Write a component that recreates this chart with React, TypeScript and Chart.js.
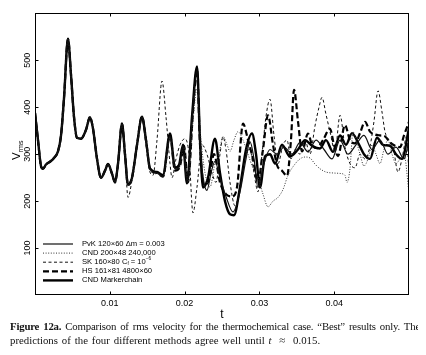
import React, { useEffect, useRef } from 'react';
import { Chart, registerables } from 'chart.js';

Chart.register(...registerables);

// ---- data (t, Vrms) ----
const tCommon = [0, 0.0004, 0.0008, 0.00107, 0.00147, 0.00201, 0.00254, 0.00307, 0.00348, 0.00388, 0.00441, 0.00481, 0.00521, 0.00561, 0.00615, 0.00682, 0.00735, 0.00775, 0.00829, 0.00882, 0.00936, 0.00976, 0.0103, 0.0107, 0.0111, 0.01163];
const vCommon = [388, 330, 275, 269, 278, 284, 292, 306, 340, 420, 546, 470, 380, 335, 333, 352, 379, 355, 290, 250, 265, 279, 258, 240, 280, 365];

const tMid = [0.01203, 0.01243, 0.01297, 0.01364, 0.0143, 0.01484];
const vMid = [300, 235, 250, 320, 380, 330];

const tMarker = [0.01537, 0.01631, 0.01711, 0.01805, 0.01872, 0.01925, 0.01979, 0.02032, 0.02099, 0.02166, 0.02206, 0.02246, 0.02313, 0.02406, 0.02473, 0.0254, 0.02607, 0.0266, 0.02741, 0.02821, 0.02901, 0.02955, 0.03008, 0.03075, 0.03142, 0.03209, 0.03302, 0.03409, 0.03516, 0.0361, 0.03703, 0.0381, 0.0389, 0.03984, 0.04078, 0.04158, 0.04238, 0.04318, 0.04398, 0.04479, 0.04572, 0.04652, 0.04746, 0.04826, 0.04906, 0.05];
const vMarker = [270, 262, 256, 344, 271, 277, 320, 238, 380, 487, 330, 229, 250, 333, 260, 200, 172, 170, 230, 310, 344, 300, 229, 295, 300, 280, 320, 295, 310, 330, 318, 312, 330, 305, 340, 320, 345, 325, 300, 290, 335, 320, 318, 300, 290, 355];

const tPvK = [0.01537, 0.01631, 0.01711, 0.01805, 0.01872, 0.01925, 0.01979, 0.02032, 0.02099, 0.02166, 0.02206, 0.02259, 0.02299, 0.02353, 0.02406, 0.02473, 0.02553, 0.02647, 0.02741, 0.02821, 0.02874, 0.02928, 0.02981, 0.03061, 0.03142, 0.03235, 0.03329, 0.03436, 0.03543, 0.0365, 0.03757, 0.03864, 0.03971, 0.04078, 0.04184, 0.04291, 0.04398, 0.04505, 0.04612, 0.04719, 0.04826, 0.04933, 0.05];
const vPvK = [268, 260, 252, 338, 268, 272, 318, 240, 375, 478, 320, 240, 223, 260, 285, 250, 210, 177, 220, 290, 327, 290, 229, 280, 310, 300, 315, 300, 325, 305, 330, 310, 290, 330, 300, 320, 340, 310, 330, 300, 315, 290, 330];

const tHS = [0.01537, 0.01631, 0.01711, 0.01805, 0.01872, 0.01939, 0.01992, 0.02045, 0.02112, 0.02166, 0.02206, 0.02259, 0.02326, 0.02393, 0.02473, 0.02553, 0.02634, 0.02701, 0.02781, 0.02848, 0.02914, 0.02981, 0.03048, 0.03115, 0.03182, 0.03235, 0.03302, 0.03369, 0.03422, 0.03463, 0.03516, 0.0357, 0.0365, 0.03703, 0.0377, 0.0385, 0.03944, 0.03997, 0.04051, 0.04144, 0.04211, 0.04278, 0.04345, 0.04412, 0.04479, 0.04545, 0.04612, 0.04679, 0.04746, 0.04813, 0.0488, 0.04933, 0.05];
const vHS = [268, 260, 252, 340, 265, 275, 318, 240, 390, 480, 320, 235, 245, 300, 240, 215, 210, 230, 365, 330, 290, 240, 310, 383, 320, 277, 265, 254, 330, 437, 370, 306, 344, 320, 313, 330, 354, 320, 296, 362, 330, 323, 345, 369, 348, 342, 340, 338, 325, 318, 315, 340, 369];

const tSK = [0.01203, 0.01243, 0.01297, 0.01364, 0.0143, 0.01484, 0.01537, 0.01578, 0.01631, 0.01698, 0.01751, 0.01805, 0.01832, 0.01885, 0.01939, 0.02005, 0.02059, 0.02112, 0.02166, 0.02233, 0.02299, 0.02366, 0.0242, 0.02473, 0.02513, 0.02553, 0.02607, 0.02674, 0.02741, 0.02821, 0.02874, 0.02928, 0.02981, 0.03035, 0.03088, 0.03142, 0.03195, 0.03249, 0.03316, 0.03369, 0.03422, 0.03476, 0.03543, 0.0361, 0.03676, 0.03743, 0.03797, 0.03837, 0.0389, 0.03944, 0.04011, 0.04078, 0.04144, 0.04211, 0.04278, 0.04345, 0.04412, 0.04479, 0.04532, 0.04586, 0.04639, 0.04679, 0.04733, 0.04786, 0.04853, 0.04906, 0.04973, 0.05];
const vSK = [300, 208, 245, 320, 378, 320, 262, 255, 330, 456, 380, 280, 250, 290, 320, 333, 300, 175, 230, 320, 300, 260, 240, 300, 337, 310, 240, 190, 230, 300, 310, 260, 220, 300, 380, 417, 340, 280, 320, 330, 290, 310, 300, 330, 300, 360, 400, 421, 385, 348, 306, 383, 315, 280, 271, 300, 290, 317, 370, 435, 390, 348, 330, 317, 262, 290, 340, 240];

const tCND = [0.01537, 0.01631, 0.01711, 0.01805, 0.01872, 0.01939, 0.01992, 0.02045, 0.02112, 0.02166, 0.02219, 0.02273, 0.0234, 0.02406, 0.0246, 0.02513, 0.02567, 0.02607, 0.0266, 0.02714, 0.02781, 0.02848, 0.02914, 0.02981, 0.03048, 0.03115, 0.03182, 0.03249, 0.03316, 0.03382, 0.03476, 0.03543, 0.0361, 0.03676, 0.03743, 0.0381, 0.0389, 0.03984, 0.04078, 0.04144, 0.04171, 0.04211, 0.04251, 0.04291, 0.04345, 0.04398, 0.04452, 0.04505, 0.04559, 0.04612, 0.04666, 0.04719, 0.04773, 0.04826, 0.0488, 0.04933, 0.05];
const vCND = [265, 258, 252, 335, 268, 275, 315, 240, 370, 440, 330, 260, 230, 280, 300, 338, 320, 306, 330, 348, 330, 300, 270, 250, 215, 188, 200, 208, 225, 255, 279, 290, 294, 292, 279, 269, 262, 260, 259, 255, 240, 269, 348, 330, 300, 275, 290, 320, 300, 280, 310, 330, 300, 280, 290, 300, 217];

const seriesNames = [
  'PvK 120×60 Δm = 0.003',
  'CND 200×48 240,000',
  'SK 160×80 C_{f} = 10^{−6}',
  'HS 161×81 4800×60',
  'CND Markerchain',
];

const xTickLabels = ['0.01', '0.02', '0.03', '0.04'];
const yTickLabels = ['100', '200', '300', '400', '500'];

const SANS = '"Liberation Sans", Arial, Helvetica, sans-serif';

function pts(ts: number[][], vs: number[][]) {
  const out: { x: number; y: number }[] = [];
  ts.forEach((t, k) => t.forEach((x, i) => out.push({ x, y: vs[k][i] })));
  return out;
}

function drawRich(ctx: CanvasRenderingContext2D, text: string, x: number, y: number, size: number) {
  const re = /([_^])\{([^}]*)\}/g;
  let last = 0;
  let cx = x;
  const segs: { s: string; kind: string }[] = [];
  let m: RegExpExecArray | null;
  while ((m = re.exec(text))) {
    if (m.index > last) segs.push({ s: text.slice(last, m.index), kind: 'n' });
    segs.push({ s: m[2], kind: m[1] });
    last = m.index + m[0].length;
  }
  if (last < text.length) segs.push({ s: text.slice(last), kind: 'n' });
  segs.forEach((sg) => {
    let fs = size;
    let dy = 0;
    if (sg.kind === '_') { fs = size * 0.62; dy = size * 0.25; }
    if (sg.kind === '^') { fs = size * 0.62; dy = -size * 0.42; }
    ctx.font = `${fs}px ${SANS}`;
    ctx.fillText(sg.s, cx, y + dy);
    cx += ctx.measureText(sg.s).width;
  });
}

const framePlugin = {
  id: 'frameAndLegend',
  afterDraw(chart: any) {
    const { ctx, chartArea: a, scales } = chart;
    ctx.save();
    ctx.strokeStyle = '#000';
    ctx.fillStyle = '#000';
    ctx.lineWidth = 1;
    ctx.setLineDash([]);
    const L = Math.round(a.left) + 0.5;
    const T = Math.round(a.top) + 0.5;
    const R = Math.round(a.right) - 0.5;
    const B = Math.round(a.bottom) - 0.5;
    ctx.strokeRect(L, T, R - L, B - T);
    ctx.beginPath();
    scales.x.ticks.forEach((tk: any) => {
      const px = Math.round(scales.x.getPixelForValue(tk.value)) + 0.5;
      ctx.moveTo(px, T); ctx.lineTo(px, T + 3);
      ctx.moveTo(px, B); ctx.lineTo(px, B - 3);
    });
    scales.y.ticks.forEach((tk: any) => {
      const py = Math.round(scales.y.getPixelForValue(tk.value)) + 0.5;
      ctx.moveTo(L, py); ctx.lineTo(L + 3, py);
      ctx.moveTo(R, py); ctx.lineTo(R - 3, py);
    });
    ctx.stroke();

    // y axis title
    ctx.save();
    ctx.translate(12, 152);
    ctx.rotate(-Math.PI / 2);
    ctx.textBaseline = 'alphabetic';
    ctx.textAlign = 'left';
    drawRich(ctx, 'V_{rms}', 0, 0, 11.5);
    ctx.restore();

    // legend
    const x1 = a.left + 8;
    const x2 = a.left + 38;
    const xt = a.left + 47;
    ctx.textBaseline = 'middle';
    ctx.textAlign = 'left';
    chart.data.datasets.forEach((ds: any, i: number) => {
      const y = a.bottom - 51 + i * 9.1;
      ctx.save();
      ctx.strokeStyle = ds.borderColor;
      ctx.lineWidth = ds.borderWidth;
      ctx.setLineDash(ds.borderDash || []);
      ctx.beginPath();
      ctx.moveTo(x1, y);
      ctx.lineTo(x2, y);
      ctx.stroke();
      ctx.restore();
      drawRich(ctx, seriesNames[i], xt, y, 7.6);
    });
    ctx.restore();
  },
};

export default function App() {
  const ref = useRef<HTMLCanvasElement | null>(null);
  useEffect(() => {
    if (!ref.current) return;
    const common = (tt: number[], vv: number[]) => pts([tCommon, tMid, tt], [vCommon, vMid, vv]);
    const chart = new Chart(ref.current, {
      type: 'line',
      data: {
        datasets: [
          { label: seriesNames[0], data: common(tPvK, vPvK), borderColor: '#111', borderWidth: 1.2, borderDash: [] },
          { label: seriesNames[1], data: common(tCND, vCND), borderColor: '#333', borderWidth: 1, borderDash: [1, 1.6] },
          { label: seriesNames[2], data: pts([tCommon, tSK], [vCommon, vSK]), borderColor: '#111', borderWidth: 1, borderDash: [3, 2.5] },
          { label: seriesNames[3], data: common(tHS, vHS), borderColor: '#000', borderWidth: 2.2, borderDash: [6, 3] },
          { label: seriesNames[4], data: common(tMarker, vMarker), borderColor: '#000', borderWidth: 2.4, borderDash: [] },
        ] as any,
      },
      options: {
        animation: false,
        responsive: false,
        events: [],
        layout: { padding: { top: 1, right: 9, left: 0, bottom: 0 } },
        plugins: { legend: { display: false }, tooltip: { enabled: false } },
        elements: {
          point: { radius: 0 },
          line: { cubicInterpolationMode: 'monotone', fill: false },
        },
        scales: {
          x: {
            type: 'linear',
            min: 0,
            max: 0.05,
            afterFit: (s: any) => { s.height = 29; },
            grid: { display: false, drawTicks: false },
            border: { display: false },
            ticks: {
              stepSize: 0.005,
              autoSkip: false,
              minRotation: 0,
              maxRotation: 0,
              padding: 3,
              color: '#000',
              font: { size: 9, family: SANS },
              callback: (v: any) => {
                const lbl = (Math.round(Number(v) * 1000) / 1000).toString();
                return xTickLabels.includes(lbl) ? lbl : null;
              },
            },
            title: { display: true, text: 't', color: '#000', font: { size: 12, family: SANS }, padding: { top: 0, bottom: 2 } },
          },
          y: {
            type: 'linear',
            min: 0,
            max: 600,
            afterFit: (s: any) => { s.width = 27; },
            grid: { display: false, drawTicks: false },
            border: { display: false },
            ticks: {
              stepSize: 50,
              autoSkip: false,
              minRotation: 90,
              maxRotation: 90,
              crossAlign: 'center',
              padding: 0,
              color: '#000',
              font: { size: 9, family: SANS },
              callback: (v: any) => {
                const lbl = String(Math.round(Number(v)));
                return yTickLabels.includes(lbl) ? lbl : null;
              },
            },
          },
        },
      } as any,
      plugins: [framePlugin],
    });
    return () => chart.destroy();
  }, []);

  return (
    <div>
      <div style={{ width: 410, height: 316 }}>
        <canvas ref={ref} width={410} height={316} style={{ display: 'block' }} />
      </div>
      <div
        style={{
          marginTop: -4,
          marginLeft: 2,
          width: 410,
          fontFamily: '"Liberation Serif", "Times New Roman", serif',
          fontSize: '10.8px',
          lineHeight: '13.5px',
          color: '#111',
        }}
      >
        <div style={{ textAlign: 'justify', textAlignLast: 'justify', whiteSpace: 'nowrap', letterSpacing: '-0.2px' }}>
          <b>Figure 12a.</b> Comparison of rms velocity for the thermochemical case. “Best” results only. The
        </div>
        <div style={{ wordSpacing: '1.2px' }}>
          predictions of the four different methods agree well until <i>t</i> &nbsp;≈ &nbsp;0.015.
        </div>
      </div>
    </div>
  );
}
